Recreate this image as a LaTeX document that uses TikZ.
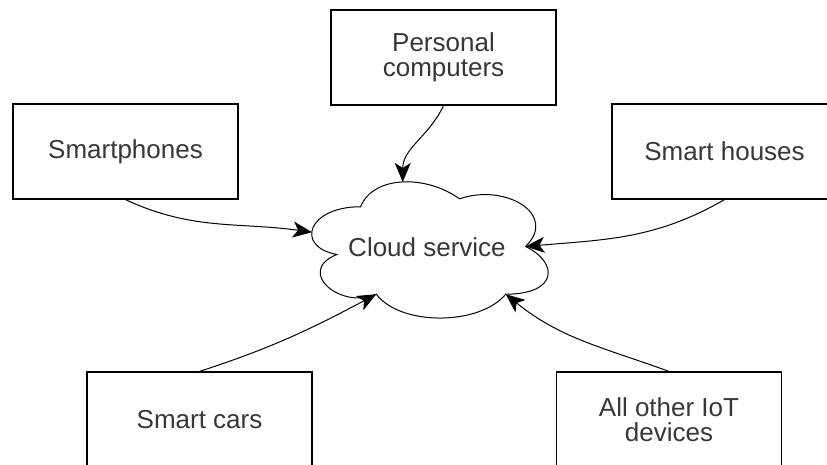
\documentclass[tikz,border=0pt]{standalone}
\usepackage{fontspec}
\setmainfont{Liberation Sans}
\usetikzlibrary{arrows.meta}
\definecolor{labelgray}{RGB}{55,55,55}

\begin{document}
\begin{tikzpicture}[x=1pt,y=-1pt,line width=1pt,
		every node/.style={font=\fontsize{26}{25}\selectfont,text=labelgray}]
		\tikzstyle{device}=[draw=black,line width=1.2pt,minimum width=225pt,minimum height=95pt,
		align=center,inner sep=0pt]
		\tikzstyle{feed}=[-{Stealth[length=19pt,width=16pt,inset=5pt]}]
		\useasboundingbox (0,0) rectangle (827,464);
		
		\node (cloud) [minimum width=264pt,minimum height=159pt,inner sep=0pt] at (427,247) {Cloud service};
		\node[device] (pc)    at (443.5,57.5)  {Personal\\computers};
		\node[device] (phone) at (125.5,151.5) {Smartphones};
		\node[device] (house) at (724.5,151.5) {Smart houses};
		\node[device] (car)   at (199.5,419.5) {Smart cars};
		\node[device] (iot)   at (669,419.5)   {All other IoT\\devices};
		
		% cloud outline, in units of the cloud node
		\begin{scope}[shift={(cloud.north west)},x=264pt,y=-159pt]
		\draw (0.25,0.25) .. controls (0.05,0.25) and (0,0.5) .. (0.16,0.55)
		.. controls (0,0.66) and (0.18,0.9) .. (0.31,0.8)
		.. controls (0.4,1) and (0.7,1) .. (0.8,0.8)
		.. controls (1,0.8) and (1,0.6) .. (0.875,0.5)
		.. controls (1,0.3) and (0.8,0.1) .. (0.625,0.2)
		.. controls (0.5,0.05) and (0.3,0.05) .. (0.25,0.25) -- cycle;
		\coordinate (cl-top)      at (0.41,0.094);
		\coordinate (cl-left)     at (0.066,0.41);
		\coordinate (cl-right)    at (0.875,0.5);
		\coordinate (cl-botleft)  at (0.31,0.8);
		\coordinate (cl-botright) at (0.8,0.8);
		\end{scope}
		
		\draw[feed] (pc.south) to [out=-115,in=90] (cl-top);
		\draw[feed] (phone.south) to [out=-25,in=172] (cl-left);
		\draw[feed] (house.south) to [out=-150,in=5] (cl-right);
		\draw[feed] (car.north) to [out=18,in=-152] (cl-botleft);
		\draw[feed] (iot.north) to [out=160,in=-39] (cl-botright);
\end{tikzpicture}
\end{document}
